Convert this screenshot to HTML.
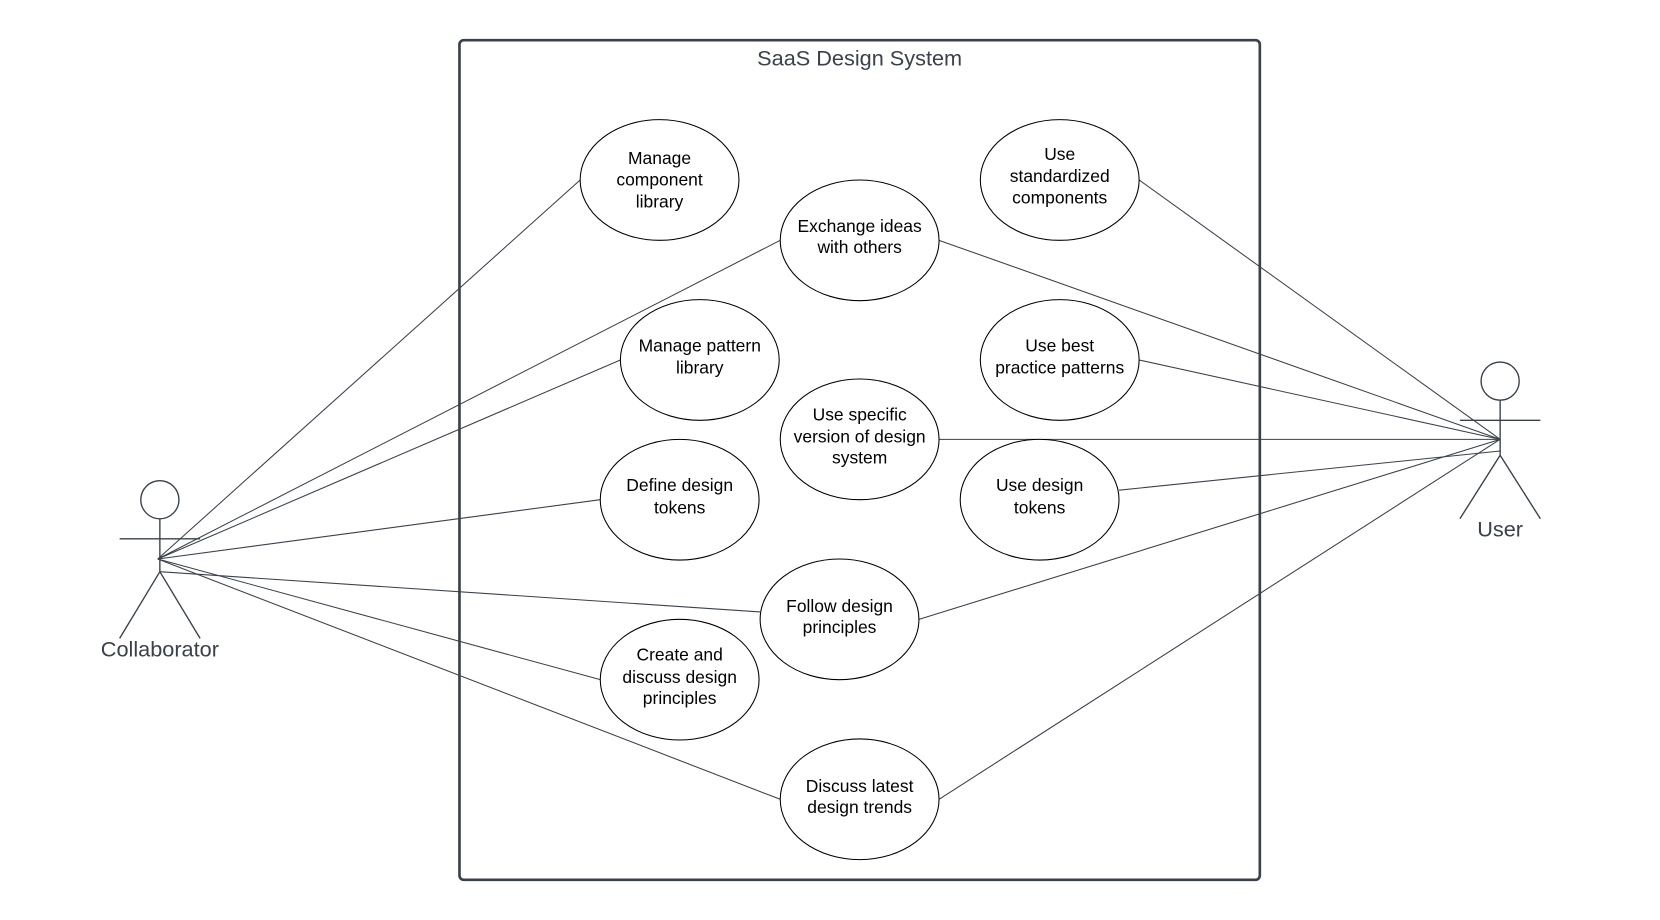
<!DOCTYPE html>
<html><head><meta charset="utf-8"><style>
html,body{margin:0;padding:0;background:#fff;}
svg{display:block;}
text{font-family:"Liberation Sans",Arial,sans-serif;}
</style></head><body>
<svg width="1660" height="920" viewBox="0 0 1568 869" xmlns="http://www.w3.org/2000/svg">
<rect x="434" y="38" width="756" height="793" rx="4" fill="none" stroke="#3a414a" stroke-width="2.5"/>
<text x="812" y="62" font-size="20.5" fill="#3a414a" text-anchor="middle">SaaS Design System</text>
<g stroke="#3a414a" stroke-width="1" fill="none">
<line x1="149" y1="528" x2="548" y2="170"/>
<line x1="149" y1="528" x2="737" y2="227"/>
<line x1="149" y1="528" x2="586" y2="340"/>
<line x1="149" y1="528" x2="567" y2="472"/>
<line x1="151" y1="540" x2="718" y2="578"/>
<line x1="149" y1="528" x2="567" y2="642"/>
<line x1="149" y1="528" x2="737" y2="755"/>
<line x1="1417" y1="415" x2="1076" y2="170"/>
<line x1="1417" y1="415" x2="887" y2="227"/>
<line x1="1417" y1="415" x2="1076" y2="340"/>
<line x1="1417" y1="415" x2="887" y2="415"/>
<line x1="1417" y1="426" x2="1057" y2="463"/>
<line x1="1417" y1="415" x2="868" y2="585"/>
<line x1="1417" y1="415" x2="887" y2="755"/>
</g>
<g stroke="#000" stroke-width="1" fill="#fff">
<ellipse cx="623" cy="170" rx="75" ry="57"/>
<ellipse cx="812" cy="227" rx="75" ry="57"/>
<ellipse cx="1001" cy="170" rx="75" ry="57"/>
<ellipse cx="661" cy="340" rx="75" ry="57"/>
<ellipse cx="1001" cy="340" rx="75" ry="57"/>
<ellipse cx="812" cy="415" rx="75" ry="57"/>
<ellipse cx="642" cy="472" rx="75" ry="57"/>
<ellipse cx="982" cy="472" rx="75" ry="57"/>
<ellipse cx="793" cy="585" rx="75" ry="57"/>
<ellipse cx="642" cy="642" rx="75" ry="57"/>
<ellipse cx="812" cy="755" rx="75" ry="57"/>
</g>
<g font-size="16.5" fill="#000" text-anchor="middle">
<text x="623" y="155">Manage</text><text x="623" y="175">component</text><text x="623" y="196">library</text>
<text x="812" y="219">Exchange ideas</text><text x="812" y="239">with others</text>
<text x="1001" y="151">Use</text><text x="1001" y="172">standardized</text><text x="1001" y="192">components</text>
<text x="661" y="332">Manage pattern</text><text x="661" y="353">library</text>
<text x="1001" y="332">Use best</text><text x="1001" y="353">practice patterns</text>
<text x="812" y="397">Use specific</text><text x="812" y="418">version of design</text><text x="812" y="438">system</text>
<text x="642" y="464">Define design</text><text x="642" y="485">tokens</text>
<text x="982" y="464">Use design</text><text x="982" y="485">tokens</text>
<text x="793" y="578">Follow design</text><text x="793" y="598">principles</text>
<text x="642" y="624">Create and</text><text x="642" y="645">discuss design</text><text x="642" y="665">principles</text>
<text x="812" y="748">Discuss latest</text><text x="812" y="768">design trends</text>
</g>
<g stroke="#3a414a" stroke-width="1.3" fill="none">
<circle cx="151" cy="472" r="18"/>
<line x1="151" y1="490" x2="151" y2="540"/>
<line x1="113" y1="509" x2="189" y2="509"/>
<line x1="151" y1="540" x2="113" y2="603"/>
<line x1="151" y1="540" x2="189" y2="603"/>
<circle cx="1417" cy="360" r="18"/>
<line x1="1417" y1="378" x2="1417" y2="430"/>
<line x1="1379" y1="397" x2="1455" y2="397"/>
<line x1="1417" y1="430" x2="1379" y2="490"/>
<line x1="1417" y1="430" x2="1455" y2="490"/>
</g>
<text x="151" y="620" font-size="20.5" fill="#3a414a" text-anchor="middle">Collaborator</text>
<text x="1417" y="507" font-size="20.5" fill="#3a414a" text-anchor="middle">User</text>
</svg>
</body></html>
